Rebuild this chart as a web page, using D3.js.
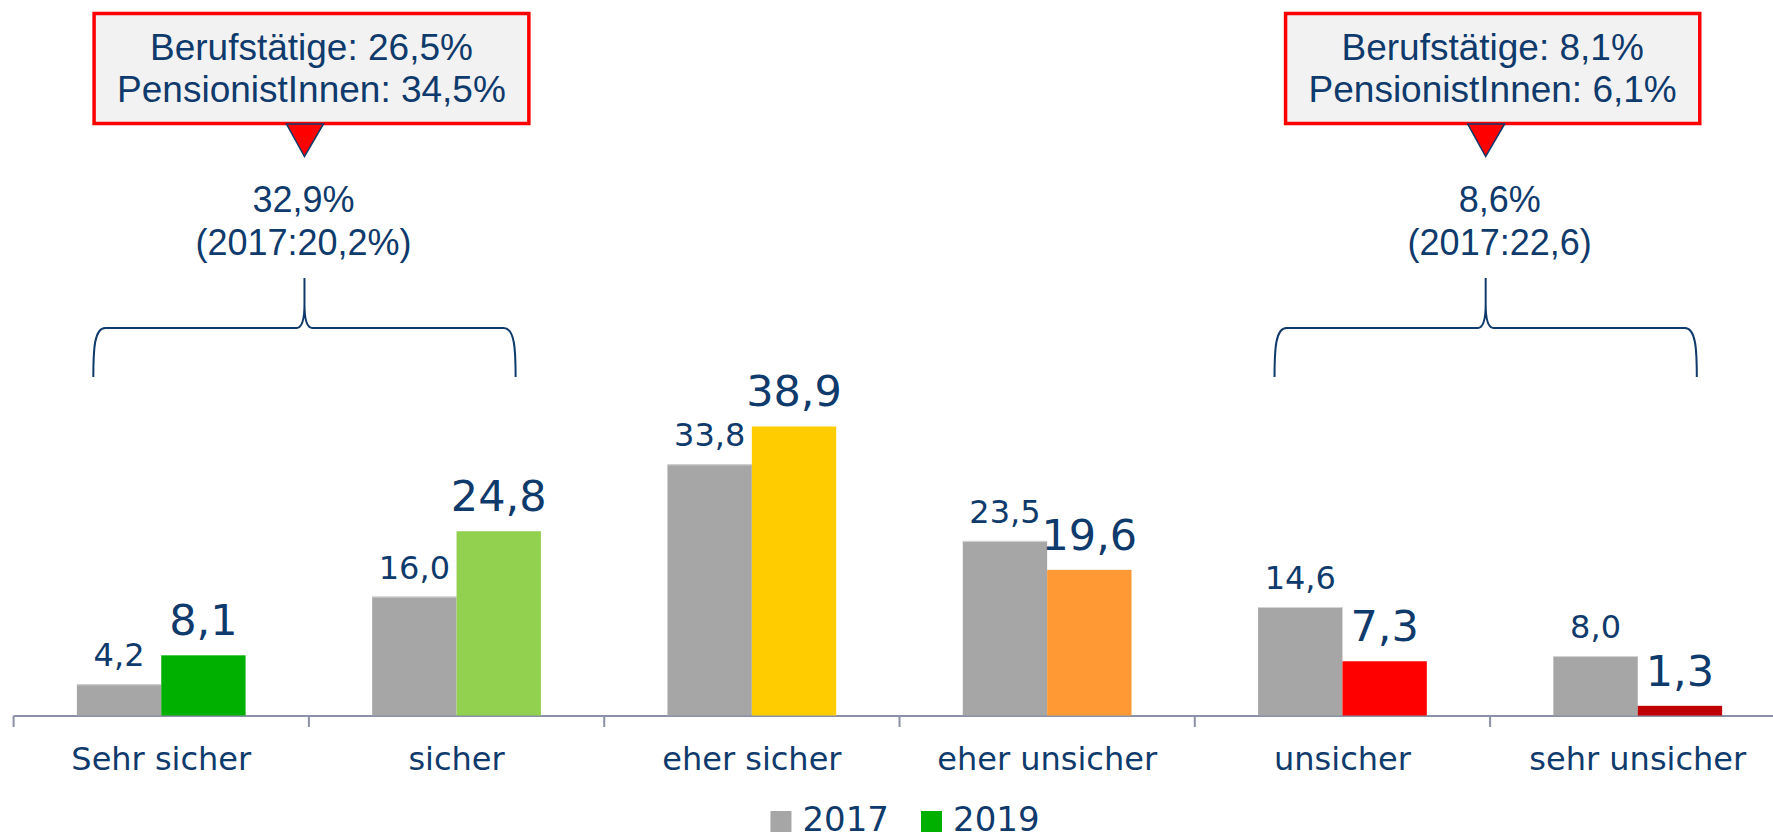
<!DOCTYPE html>
<html>
<head>
<meta charset="utf-8">
<script src="https://cdn.jsdelivr.net/npm/d3@7"></script>
<style>
  body { margin: 0; background: #fff; }
  svg { display: block; }
</style>
</head>
<body>
<svg id="chart" width="1773" height="839"></svg>
<script>
// chart data
const categories = ["Sehr sicher", "sicher", "eher sicher", "eher unsicher", "unsicher", "sehr unsicher"];
const seriesNames = ["2017", "2019"];
const values2017 = [4.2, 16.0, 33.8, 23.5, 14.6, 8.0];
const values2019 = [8.1, 24.8, 38.9, 19.6, 7.3, 1.3];
const colors2019 = ["#00b000", "#92d050", "#ffcc00", "#ff9933", "#ff0000", "#c00000"];

// bracket annotations
const annoFrom = ["Sehr sicher", "unsicher"];
const annoTo = ["sicher", "sehr unsicher"];
const annoTotals = ["32,9%", "8,6%"];
const annoPrev = ["(2017:20,2%)", "(2017:22,6)"];
const annoLine1 = ["Berufstätige: 26,5%", "Berufstätige: 8,1%"];
const annoLine2 = ["PensionistInnen: 34,5%", "PensionistInnen: 6,1%"];

const NAVY = "#0f3a6c", GRAY = "#a6a6a6", AXIS = "#8b91a7";
const comma = d3.formatLocale({decimal: ",", thousands: ".", grouping: [3], currency: ["", "€"]}).format(".1f");

const svg = d3.select('#chart');

const x = d3.scaleBand().domain(categories).range([13.6, 13.6 + 6 * 295.3]);
const xs = d3.scaleBand().domain(seriesNames).range([0, x.bandwidth()]).paddingOuter(0.75);
const y = d3.scaleLinear().domain([0, 40]).range([715.5, 715.5 - 297.2]);

const rows = categories.map((c, i) => ({cat: c, v17: values2017[i], v19: values2019[i], col: colors2019[i]}));

// axis
const xAxis = d3.axisBottom(x).tickSize(0).tickSizeOuter(0).tickPadding(0);
const axisG = svg.append('g').attr('transform', `translate(0,${y(0)})`).call(xAxis);
axisG.select('.domain').attr('stroke', AXIS).attr('stroke-width', 2);
axisG.selectAll('.tick text')
  .attr('y', 54.5).attr('dy', 0)
  .style('font-family', '"DejaVu Sans", Verdana, sans-serif')
  .style('font-size', '32px')
  .attr('fill', NAVY);

svg.selectAll('line.sep').data(categories)
  .enter().append('line')
  .attr('class', 'sep')
  .attr('x1', d => x(d)).attr('x2', d => x(d))
  .attr('y1', y(0)).attr('y2', y(0) + 11.5)
  .attr('stroke', AXIS).attr('stroke-width', 2);

// bars
svg.selectAll('rect.b17').data(rows)
  .enter().append('rect')
  .attr('class', 'b17')
  .attr('x', d => x(d.cat) + xs("2017"))
  .attr('width', xs.bandwidth())
  .attr('y', d => y(d.v17))
  .attr('height', d => y(0) - y(d.v17))
  .attr('fill', GRAY);

svg.selectAll('line.b17top').data(rows)
  .enter().append('line')
  .attr('x1', d => x(d.cat) + xs("2017"))
  .attr('x2', d => x(d.cat) + xs("2017") + xs.bandwidth())
  .attr('y1', d => y(d.v17) + 0.5).attr('y2', d => y(d.v17) + 0.5)
  .attr('stroke', '#d4d4d4').attr('stroke-width', 1);

svg.selectAll('rect.b19').data(rows)
  .enter().append('rect')
  .attr('class', 'b19')
  .attr('x', d => x(d.cat) + xs("2019"))
  .attr('width', xs.bandwidth())
  .attr('y', d => y(d.v19))
  .attr('height', d => y(0) - y(d.v19))
  .attr('fill', d => d.col);

// value labels
svg.selectAll('text.l17').data(rows)
  .enter().append('text')
  .attr('class', 'l17')
  .attr('x', d => x(d.cat) + xs("2017") + xs.bandwidth() / 2)
  .attr('y', d => y(d.v17) - 18)
  .attr('text-anchor', 'middle')
  .style('font-family', '"DejaVu Sans", Verdana, sans-serif')
  .style('font-size', '32px')
  .attr('fill', NAVY)
  .text(d => comma(d.v17));

svg.selectAll('text.l19').data(rows)
  .enter().append('text')
  .attr('class', 'l19')
  .attr('x', d => x(d.cat) + xs("2019") + xs.bandwidth() / 2)
  .attr('y', d => y(d.v19) - 20)
  .attr('text-anchor', 'middle')
  .style('font-family', '"DejaVu Sans", Verdana, sans-serif')
  .style('font-size', '43px')
  .attr('fill', NAVY)
  .text(d => comma(d.v19));

// annotations: brace, totals, callout box
const ARIAL = '"Liberation Sans", Arial, sans-serif';
annoFrom.forEach((from, i) => {
  const x0 = x(from) + x.bandwidth() * 0.27;
  const x1 = x(annoTo[i]) + x.bandwidth() * 0.7;
  const xm = (x0 + x1) / 2;
  const yTop = 278, yH = 328, yB = 377;

  const p = d3.path();
  p.moveTo(x0, yB);
  p.bezierCurveTo(x0, yB - 28, x0 + 1, yH, x0 + 12, yH);
  p.lineTo(xm - 8, yH);
  p.bezierCurveTo(xm - 2, yH, xm, yH - 10, xm, yH - 24);
  p.lineTo(xm, yTop);
  p.moveTo(xm, yH - 24);
  p.bezierCurveTo(xm, yH - 10, xm + 2, yH, xm + 8, yH);
  p.lineTo(x1 - 12, yH);
  p.bezierCurveTo(x1 - 1, yH, x1, yB - 28, x1, yB);
  svg.append('path').attr('d', p.toString())
    .attr('fill', 'none').attr('stroke', NAVY).attr('stroke-width', 2);

  const tx = xm + (i === 0 ? -1 : 14);
  svg.append('text').attr('x', tx).attr('y', 212)
    .attr('text-anchor', 'middle')
    .style('font-family', ARIAL).style('font-size', '36px')
    .attr('fill', NAVY).text(annoTotals[i]);
  svg.append('text').attr('x', tx).attr('y', 255)
    .attr('text-anchor', 'middle')
    .style('font-family', ARIAL).style('font-size', '36px')
    .attr('fill', NAVY).text(annoPrev[i]);

  const bx = xm + 7;
  const boxG = svg.append('g');
  const rect = boxG.append('rect')
    .attr('y', 13.5).attr('height', 110)
    .attr('fill', '#f2f2f2').attr('stroke', '#ff0000').attr('stroke-width', 3.5);
  const t1 = boxG.append('text').attr('x', bx).attr('y', 59.5)
    .attr('text-anchor', 'middle')
    .style('font-family', ARIAL).style('font-size', '37px')
    .attr('fill', NAVY).text(annoLine1[i]);
  const t2 = boxG.append('text').attr('x', bx).attr('y', 102)
    .attr('text-anchor', 'middle')
    .style('font-family', ARIAL).style('font-size', '37px')
    .attr('fill', NAVY).text(annoLine2[i]);
  const w = Math.max(t1.node().getComputedTextLength(), t2.node().getComputedTextLength()) + 46;
  rect.attr('x', bx - w / 2).attr('width', w);

  svg.append('path')
    .attr('d', `M${xm - 18},124 L${xm + 19},124 L${xm},156.5 Z`)
    .attr('fill', '#ff0000').attr('stroke', NAVY).attr('stroke-width', 1.5)
    .attr('stroke-linejoin', 'miter');
});

// legend
const legend = svg.append('g');
const legendColors = [GRAY, colors2019[0]];
let lx = 0;
seriesNames.forEach((s, i) => {
  legend.append('rect').attr('x', lx).attr('y', 811).attr('width', 21).attr('height', 21)
    .attr('fill', legendColors[i]);
  const t = legend.append('text').attr('x', lx + 32).attr('y', 831)
    .style('font-family', '"DejaVu Sans", Verdana, sans-serif')
    .style('font-size', '34px')
    .attr('fill', NAVY).text(s);
  lx += 32 + t.node().getComputedTextLength() + 32;
});
const lw = lx - 32;
legend.attr('transform', `translate(${905 - lw / 2},0)`);
</script>
</body>
</html>
